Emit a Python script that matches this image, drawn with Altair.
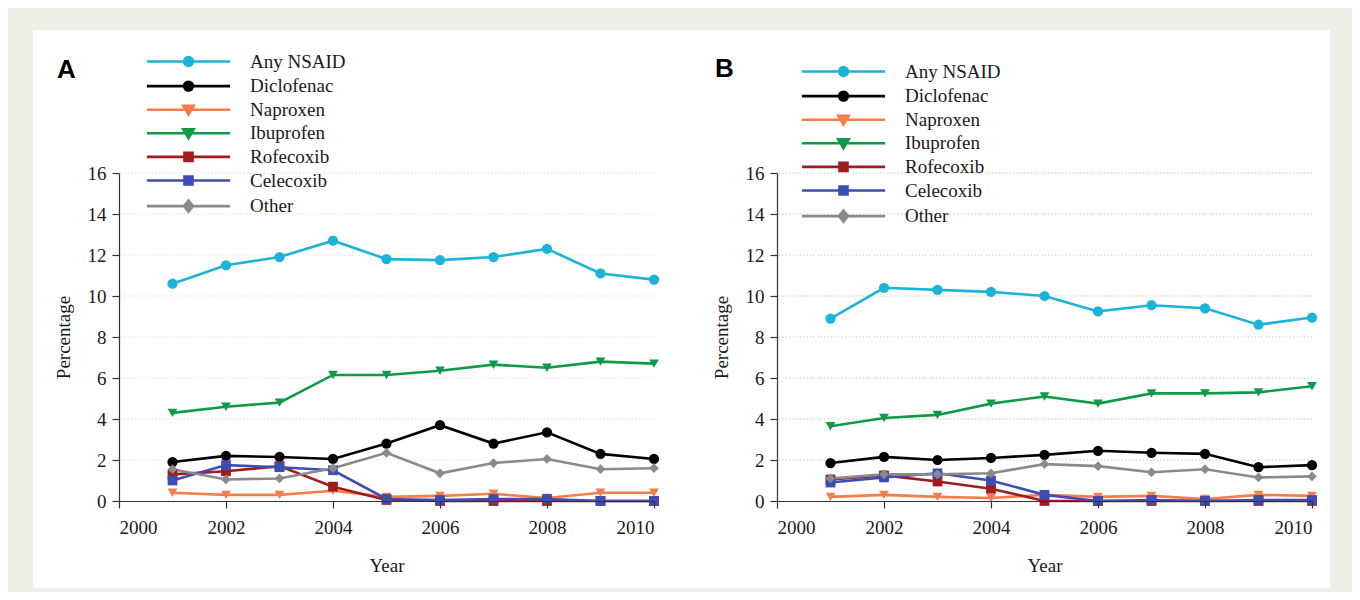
import altair as alt
import pandas as pd

years = list(range(2001, 2011))
series_names = ["Any NSAID", "Diclofenac", "Naproxen", "Ibuprofen", "Rofecoxib", "Celecoxib", "Other"]

# Panel A
a_any = [10.6, 11.5, 11.9, 12.7, 11.8, 11.75, 11.9, 12.3, 11.1, 10.8]
a_diclofenac = [1.9, 2.2, 2.15, 2.05, 2.8, 3.7, 2.8, 3.35, 2.3, 2.05]
a_naproxen = [0.4, 0.3, 0.3, 0.5, 0.2, 0.25, 0.35, 0.15, 0.4, 0.4]
a_ibuprofen = [4.3, 4.6, 4.8, 6.15, 6.15, 6.35, 6.65, 6.5, 6.8, 6.7]
a_rofecoxib = [1.3, 1.45, 1.7, 0.7, 0.05, 0.0, 0.0, 0.0, 0.0, 0.0]
a_celecoxib = [1.0, 1.75, 1.65, 1.5, 0.1, 0.05, 0.1, 0.1, 0.0, 0.0]
a_other = [1.55, 1.05, 1.1, 1.6, 2.35, 1.35, 1.85, 2.05, 1.55, 1.6]

# Panel B
b_any = [8.9, 10.4, 10.3, 10.2, 10.0, 9.25, 9.55, 9.4, 8.6, 8.95]
b_diclofenac = [1.85, 2.15, 2.0, 2.1, 2.25, 2.45, 2.35, 2.3, 1.65, 1.75]
b_naproxen = [0.2, 0.3, 0.2, 0.15, 0.3, 0.2, 0.25, 0.1, 0.3, 0.25]
b_ibuprofen = [3.65, 4.05, 4.2, 4.75, 5.1, 4.75, 5.25, 5.25, 5.3, 5.6]
b_rofecoxib = [1.05, 1.25, 0.95, 0.6, 0.0, 0.0, 0.0, 0.0, 0.0, 0.0]
b_celecoxib = [0.9, 1.15, 1.35, 1.0, 0.3, 0.0, 0.05, 0.0, 0.05, 0.05]
b_other = [1.1, 1.3, 1.3, 1.35, 1.8, 1.7, 1.4, 1.55, 1.15, 1.2]

x_ticks = [2000, 2002, 2004, 2006, 2008, 2010]
y_ticks = [0, 2, 4, 6, 8, 10, 12, 14, 16]
grid_values = [2, 4, 6, 8, 10, 12, 14, 16]

# styles
colors = ["#1bb4d8", "#000000", "#f47d4a", "#0e9a49", "#a11c21", "#3c4db6", "#8a8a8a"]
color_of = dict(zip(series_names, colors))
alpha_names = sorted(series_names)
alpha_colors = [color_of[n] for n in alpha_names]
marker_groups = {
    "circle": ["Any NSAID", "Diclofenac"],
    "triangle-down": ["Naproxen", "Ibuprofen"],
    "square": ["Rofecoxib", "Celecoxib"],
    "diamond": ["Other"],
}
LINE = "M-5.2,0H5.2"
legend_paths = [
    LINE + "M0.55,0A0.55,0.55,0,1,1,-0.55,0A0.55,0.55,0,1,1,0.55,0Z",
    LINE + "M0.55,0A0.55,0.55,0,1,1,-0.55,0A0.55,0.55,0,1,1,0.55,0Z",
    LINE + "M-0.65,-0.5L0.65,-0.5L0,0.6Z",
    LINE + "M-0.65,-0.5L0.65,-0.5L0,0.6Z",
    LINE + "M-0.5,-0.5H0.5V0.5H-0.5Z",
    LINE + "M-0.5,-0.5H0.5V0.5H-0.5Z",
    LINE + "M0,-0.7L0.56,0L0,0.7L-0.56,0Z",
]

SERIF = "Liberation Serif"
FS = 19


def make_df(vals):
    rows = []
    for name, v in zip(series_names, vals):
        for yr, val in zip(years, v):
            rows.append({"year": yr, "value": val, "series": name})
    return pd.DataFrame(rows)


df_a = make_df([a_any, a_diclofenac, a_naproxen, a_ibuprofen, a_rofecoxib, a_celecoxib, a_other])
df_b = make_df([b_any, b_diclofenac, b_naproxen, b_ibuprofen, b_rofecoxib, b_celecoxib, b_other])

W, H = 535, 328


def panel(df, label, legend_x, legend_y, title_dy, grid_color, with_card):
    xs = alt.Scale(domain=[2000, 2010], nice=False)
    ys = alt.Scale(domain=[0, 16], nice=False)
    x_axis = alt.Axis(values=x_ticks, format="d", zindex=1, titlePadding=19, labelPadding=10)
    y_axis = alt.Axis(values=y_ticks, zindex=1, titlePadding=14, labelPadding=6)
    x_enc = alt.X("year:Q", scale=xs, title="Year", axis=x_axis)
    y_enc = alt.Y("value:Q", scale=ys, title="Percentage", axis=y_axis)
    # data-driven (alphabetical) domain for line/marker colours
    line_scale = alt.Scale(range=alpha_colors)
    # explicit domain for the legend
    leg_scale = alt.Scale(domain=series_names, range=colors)

    layers = []
    if with_card:
        card = alt.Chart(alt.Data(values=[{"c": 1}])).mark_rect(fill="white").encode(
            x=alt.value(-86), x2=alt.value(1211), y=alt.value(-143), y2=alt.value(415))
        layers.append(card)

    grid = alt.Chart(pd.DataFrame({"g": grid_values})).mark_rule(
        color=grid_color, strokeDash=[1.5, 2], strokeWidth=1).encode(
        y=alt.Y("g:Q", scale=ys, title="Percentage", axis=y_axis))
    layers.append(grid)

    base = alt.Chart(df)
    lines = base.mark_line(strokeWidth=2.6).encode(
        x=x_enc, y=y_enc, color=alt.Color("series:N", scale=line_scale, legend=None))
    layers.append(lines)

    for shp, members in marker_groups.items():
        pts = base.transform_filter(
            alt.FieldOneOfPredicate(field="series", oneOf=members)
        ).mark_point(filled=True, shape=shp, size=105 if shp == "circle" else 95, opacity=1).encode(
            x=x_enc, y=y_enc, color=alt.Color("series:N", scale=line_scale, legend=None))
        layers.append(pts)

    leg = alt.Legend(orient="none", legendX=legend_x, legendY=legend_y, title=None,
                     labelFont=SERIF, labelFontSize=FS, labelColor="#1a1a1a",
                     symbolSize=256, symbolStrokeWidth=2.6, labelOffset=52,
                     rowPadding=3.6, padding=0)
    legend_layer = base.transform_filter("datum.value < -100").mark_point(
        filled=True, size=256, opacity=1, strokeWidth=2.6).encode(
        x=x_enc, y=y_enc,
        shape=alt.Shape("series:N", scale=alt.Scale(domain=series_names, range=legend_paths), legend=leg),
        fill=alt.Fill("series:N", scale=leg_scale, legend=leg),
        stroke=alt.Stroke("series:N", scale=leg_scale, legend=leg),
    )
    layers.append(legend_layer)

    return alt.layer(*layers).properties(
        width=W, height=H,
        title=alt.TitleParams(text=label, anchor="start", frame="group", font="Liberation Sans",
                              fontSize=26, fontWeight="bold", color="#000", offset=0,
                              dx=-62, dy=title_dy, baseline="alphabetic"),
    )


pa = panel(df_a, "A", 60, -121, 74, "#e3e3e3", True)
pb = panel(df_b, "B", 57, -111, 41, "#c9c9c9", False)

chart = alt.hconcat(pa, pb, spacing=123, bounds="flush").resolve_scale(
    color="independent", fill="independent", stroke="independent", shape="independent"
).resolve_legend(
    color="independent", fill="independent", stroke="independent", shape="independent"
).properties(
    background="#efefe7",
    padding={"left": 25, "top": 22, "right": 22, "bottom": 4},
).configure_view(stroke=None).configure_axis(
    domainColor="#333", tickColor="#333", domainWidth=1.2, tickWidth=1.2, tickSize=7,
    labelFont=SERIF, labelFontSize=FS, labelColor="#1a1a1a",
    titleFont=SERIF, titleFontSize=FS, titleFontWeight="normal", titleColor="#1a1a1a",
    grid=False,
)

chart.save("out.html", embed_options={"renderer": "svg", "actions": False})
